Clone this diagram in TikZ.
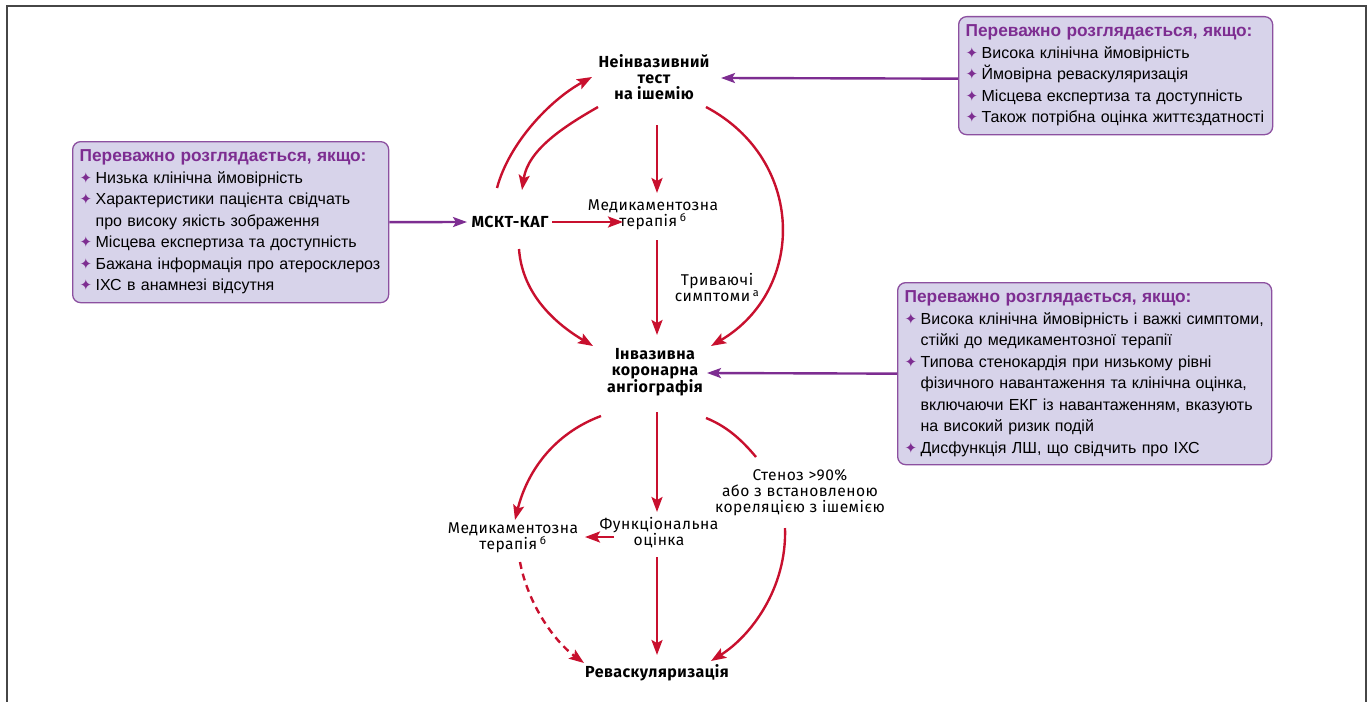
\documentclass[tikz,border=0pt]{standalone}
\usepackage{fontspec}
\setmainfont{Liberation Sans}
\newfontfamily\ctrfont[LetterSpace=3]{Fira Sans}
\newfontfamily\symfont{DejaVu Sans}
\usetikzlibrary{arrows.meta,calc}
\definecolor{rd}{RGB}{200,16,46}
\definecolor{pu}{RGB}{125,45,145}
\definecolor{boxfill}{RGB}{215,211,234}
\definecolor{boxline}{RGB}{140,80,160}
\definecolor{frm}{RGB}{70,70,70}
\newcommand{\bul}{\makebox[16pt][l]{\raisebox{0pt}{\textcolor{pu}{\symfont\fontsize{15}{15}\selectfont ✦}}}}
\newcommand{\ind}{\hspace*{16pt}}
\newcommand{\hd}{\textcolor{pu}{\fontsize{17.3}{21.5}\selectfont\bfseries Переважно розглядається, якщо:}}
\begin{document}
\begin{tikzpicture}[x=1pt,y=-1pt,
  infobox/.style={draw=boxline, line width=1.3pt, fill=boxfill, rounded corners=8pt,
    align=left, inner xsep=7pt, inner ysep=3pt, anchor=north west,
    font=\fontsize{16}{21.5}\selectfont},
  ctrb/.style={font=\ctrfont\bfseries\fontsize{16}{16}\selectfont, align=center, inner sep=0pt},
  ctr/.style={font=\ctrfont\fontsize{15.6}{16}\selectfont, align=center, inner sep=0pt},
  ra/.style={draw=rd, line width=2.4pt, -{Stealth[length=15pt,width=11pt,inset=3pt]}},
  rl/.style={draw=rd, line width=2.4pt},
  pa/.style={draw=pu, line width=2.4pt, -{Stealth[length=14pt,width=10pt,inset=3pt]}}
]
\useasboundingbox (0,0) rectangle (1372,701);
\draw[frm, line width=2pt] (7,702) -- (7,6) -- (1366,6) -- (1366,702);

% info boxes
\node[infobox, text width=300pt, minimum height=118pt] (tr) at (958,16) {\hd\\
\bul Висока клінічна ймовірність\\
\bul Ймовірна реваскуляризація\\
\bul Місцева експертиза та доступність\\
\bul Також потрібна оцінка життєздатності};

\node[infobox, text width=302pt, minimum height=161pt] (lb) at (72,141) {\hd\\
\bul Низька клінічна ймовірність\\
\bul Характеристики пацієнта свідчать\\
\ind про високу якість зображення\\
\bul Місцева експертиза та доступність\\
\bul Бажана інформація про атеросклероз\\
\bul ІХС в анамнезі відсутня};

\node[infobox, text width=360pt, minimum height=182pt] (rb) at (897,282) {\hd\\
\bul Висока клінічна ймовірність і важкі симптоми,\\
\ind стійкі до медикаментозної терапії\\
\bul Типова стенокардія при низькому рівні\\
\ind фізичного навантаження та клінічна оцінка,\\
\ind включаючи ЕКГ із навантаженням, вказують\\
\ind на високий ризик подій\\
\bul Дисфункція ЛШ, що свідчить про ІХС};

% centre nodes
\node[ctrb] (ni) at (654,77) {Неінвазивний\\тест\\на ішемію};
\node[ctrb] (msct) at (510,222) {МСКТ-КАГ};
\node[ctr] (med1) at (653,215) {Медикаментозна\\терапія\,\textsuperscript{б}};
\node[ctr] (sym) at (717,288) {Триваючі\\симптоми\,\textsuperscript{а}};
\node[ctrb] (ica) at (655,372) {Інвазивна\\коронарна\\ангіографія};
\node[ctr] (med2) at (513,538) {Медикаментозна\\терапія\,\textsuperscript{б}};
\node[ctr] (func) at (659,533) {Функціональна\\оцінка};
\node[ctr] (sten) at (800,493) {Стеноз >90\%\\або з встановленою\\кореляцією з ішемією};
\node[ctrb] (rev) at (657,673) {Реваскуляризація};

% purple arrows
\draw[pa] ([shift={(0,3)}]tr.west) -- ([shift={(67,1)}]ni.center);
\draw[pa] (lb.east) -- ([shift={(-43,0)}]msct.center);
\draw[pa] (rb.west) -- ([shift={(52,1)}]ica.center);

% red arrows
\draw[ra] ([shift={(-13,-34)}]msct.center) .. controls +(12,-45) and +(-42,23) .. ([shift={(-62,0)}]ni.center);
\draw[ra] ([shift={(-56,30)}]ni.center) .. controls +(-35,20) and +(6,-40) .. ([shift={(12,-32)}]msct.center);
\draw[ra] ([shift={(3,48)}]ni.center) -- ([shift={(4,-22)}]med1.center);
\draw[ra] ([shift={(42,0)}]msct.center) -- ([shift={(-30,7)}]med1.center);
\draw[ra] ([shift={(4,25)}]med1.center) -- ([shift={(2,-37)}]ica.center);
\draw[ra] ([shift={(52,30)}]ni.center) .. controls +(100,53) and +(95,-56) .. ([shift={(56,-26)}]ica.center);
\draw[ra] ([shift={(9,27)}]msct.center) .. controls +(3,42) and +(-42,-25) .. ([shift={(-62,-26)}]ica.center);
\draw[ra] ([shift={(-54,44)}]ica.center) .. controls +(-48,18) and +(12,-48) .. ([shift={(2,-18)}]med2.center);
\draw[ra] ([shift={(2,40)}]ica.center) -- ([shift={(-2,-21)}]func.center);
\draw[ra] ([shift={(-45,4)}]func.center) -- ([shift={(72,-1)}]med2.center);
\draw[rl] ([shift={(51,46)}]ica.center) .. controls +(20,8) and +(-15,-18) .. ([shift={(-44,-36)}]sten.center);
\draw[ra] ([shift={(-15,35)}]sten.center) .. controls +(2,60) and +(40,-25) .. ([shift={(54,-12)}]rev.center);
\draw[ra] ([shift={(-2,24)}]func.center) -- ([shift={(0,-18)}]rev.center);
\draw[ra, dashed, dash pattern=on 7pt off 5pt] ([shift={(7,24)}]med2.center) .. controls +(8,42) and +(-30,-22) .. ([shift={(-73,-10)}]rev.center);
\end{tikzpicture}
\end{document}
